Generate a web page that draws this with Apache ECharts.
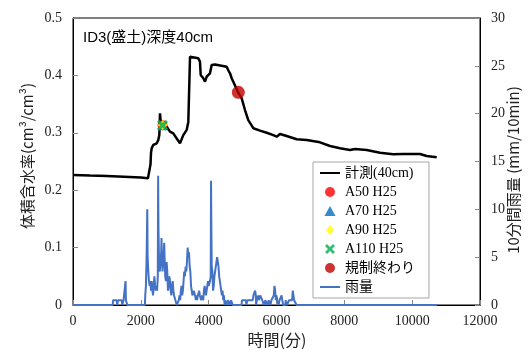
<!DOCTYPE html>
<html><head><meta charset="utf-8">
<script src="https://cdn.jsdelivr.net/npm/echarts@6/dist/echarts.min.js"></script>
<style>html,body{margin:0;padding:0;background:#fff}#c{width:528px;height:350px}</style>
</head><body><div id="c"></div>
<script>
// Soil moisture at 40cm depth: [time(min), cm3/cm3]
var moisture = [[0,0.2265],[500,0.2255],[1000,0.2248],[1500,0.2235],[2000,0.2222],[2210,0.2207],[2265,0.2215],[2285,0.245],[2300,0.265],[2320,0.273],[2368,0.279],[2468,0.2817],[2515,0.2875],[2545,0.296],[2565,0.334],[2594,0.3136],[2653,0.312],[2762,0.3106],[2860,0.302],[2957,0.299],[3057,0.290],[3155,0.2817],[3205,0.2817],[3252,0.296],[3352,0.305],[3400,0.319],[3450,0.4326],[3500,0.4326],[3694,0.430],[3744,0.424],[3765,0.4007],[3842,0.395],[3892,0.389],[3942,0.3977],[4039,0.4037],[4089,0.418],[4187,0.419],[4531,0.415],[4579,0.409],[4629,0.4037],[4679,0.395],[4726,0.389],[4874,0.370],[4974,0.360],[5071,0.3397],[5168,0.322],[5316,0.308],[5513,0.3037],[5711,0.300],[5905,0.296],[6006,0.2932],[6103,0.298],[6300,0.2944],[6595,0.2887],[6890,0.2875],[7282,0.2834],[7577,0.277],[7872,0.273],[8167,0.270],[8314,0.2718],[8659,0.270],[9051,0.2653],[9443,0.2625],[9738,0.263],[10231,0.263],[10428,0.2596],[10723,0.2573]];
var a50 = [[2640,0.313]];
var a70 = [[2640,0.313]];
var a90 = [[2640,0.313]];
var a110 = [[2640,0.313]];
var kiseiEnd = [[4874,0.3705]];
// 10-minute rainfall: [time(min), mm/10min]
var rain = [[0,0],[1170,0],[1180,0.5],[1290,0.5],[1300,0],[1320,0],[1330,0.5],[1440,0.5],[1450,0],[1480,0],[1490,0.5],[1540,0.5],[1550,2.5],[1560,0.5],[1590,0.5],[1600,0],
[2120,0],[2130,1],[2150,2],[2170,5],[2190,10],[2200,5],[2220,3.5],[2240,2.5],[2260,2],[2280,2.5],[2300,1.5],[2320,2.5],[2340,1.5],[2360,1],[2380,2],[2400,3],[2420,2],[2440,1.5],[2460,2],[2480,1.5],[2500,3],[2510,13.5],[2520,8],[2540,4],[2560,3.5],[2580,4.5],[2600,5.5],[2610,7],[2620,5],[2640,3.5],[2660,4.5],[2690,6.5],[2700,5],[2720,3],[2740,2.5],[2760,4.5],[2780,3.5],[2800,1.5],[2820,2],[2840,3],[2860,2.5],[2880,1.5],[2900,1],[2920,2],[2940,2.5],[2960,1.5],[2980,1],[3000,1],[3020,0.5],[3040,0.5],[3060,0],[3100,0],[3120,0.5],[3140,1],[3160,0.5],[3180,1.5],[3200,2],[3220,1],[3240,1.5],[3260,2.5],[3280,3.5],[3300,3],[3320,4],[3340,3.5],[3360,4.5],[3380,6],[3400,5],[3420,5.5],[3440,4],[3460,3.5],[3480,2],[3500,1.5],[3520,1],[3540,1],[3560,1.5],[3580,1.5],[3600,1],[3620,0.5],[3640,1],[3660,0.5],[3680,1],[3700,1],[3720,1.5],[3740,1],[3760,1],[3780,0.5],[3800,1],[3820,1],[3840,0.5],[3860,1.5],[3880,2],[3900,1.5],[3920,1],[3940,1.5],[3960,2],[3980,2.5],[4000,2],[4020,2],[4040,2.5],[4060,3],[4070,13],[4080,8],[4090,4],[4110,3.5],[4130,1.5],[4150,2],[4170,3],[4190,3.5],[4210,4],[4230,4.5],[4250,5],[4270,5],[4290,4],[4310,3],[4330,2.5],[4350,2],[4370,1.5],[4390,1],[4410,1.5],[4430,0.5],[4450,1],[4470,0],[4490,0.5],[4530,0.5],[4540,0],[4560,0],[4570,0.5],[4620,0.5],[4630,0],[4650,0],[4660,0.5],[4700,0.5],[4710,0],[4970,0],[4980,0.5],[5100,0.5],[5110,0],[5130,0],[5140,0.5],[5300,0.5],[5320,1],[5350,1],[5370,1.5],[5390,1],[5400,0],[5420,0.5],[5450,0.5],[5460,1],[5480,0.5],[5520,1],[5560,1],[5580,0.5],[5620,0.5],[5630,0],[5660,0],[5670,0.5],[5720,0.5],[5730,0],[5760,0],[5770,0.5],[5810,0.5],[5820,0],[5840,0],[5850,0.5],[5900,0.5],[5920,1],[5940,2],[5960,1.5],[5980,0.5],[6000,1],[6020,0.5],[6040,0.5],[6060,0],[6080,0],[6090,0.5],[6130,0.5],[6150,1],[6170,0.5],[6190,0.5],[6200,0],[6260,0],[6270,0.5],[6300,0.5],[6310,0],[6360,0],[6370,0.5],[6460,0.5],[6480,1.5],[6500,1],[6520,0.5],[6560,0.5],[6590,0],[10730,0]];
var xTicks = [0,2000,4000,6000,8000,10000,12000];
var leftTicks = [0,0.1,0.2,0.3,0.4,0.5];
var rightTicks = [0,5,10,15,20,25,30];

var serif = "'Liberation Serif','Times New Roman','Noto Sans CJK JP',serif";
var jp = "'Noto Sans CJK JP','Liberation Serif',sans-serif";
var xPath = 'path://M0,2 L2,0 L5,3 L8,0 L10,2 L7,5 L10,8 L8,10 L5,7 L2,10 L0,8 L3,5 Z';
var circlePath = 'path://M0,5 A5,5 0 1,1 10,5 A5,5 0 1,1 0,5 Z';
var triPath = 'path://M5,0 L10,9 L0,9 Z';
var diaPath = 'path://M5,0 L9,5 L5,10 L1,5 Z';
var linePath = 'path://M0,0 L20,0 L20,2 L0,2 Z';

var chart = echarts.init(document.getElementById('c'), null, {renderer:'canvas'});
var tickStyle = {show:true, inside:true, length:5, lineStyle:{color:'#888', width:1}};
var axisLbl = {color:'#222', fontFamily:serif, fontSize:14};
chart.setOption({
  animation:false,
  grid:{left:73, right:48, top:18, bottom:45, show:true, borderColor:'#000', borderWidth:1},
  xAxis:{type:'value', min:0, max:12000, interval:2000,
    axisLine:{show:true, lineStyle:{color:'#000', width:1}}, axisTick:tickStyle, splitLine:{show:false},
    axisLabel:Object.assign({margin:9, formatter:function(v){return xTicks.indexOf(v)>=0?String(v):'';}}, axisLbl)},
  yAxis:[
    {type:'value', min:0, max:0.5, interval:0.1, position:'left',
     axisLine:{show:true, lineStyle:{color:'#000', width:1}}, axisTick:tickStyle, splitLine:{show:false},
     axisLabel:Object.assign({margin:11, formatter:function(v){var r=Math.round(v*10)/10; return leftTicks.indexOf(r)>=0?String(r):'';}}, axisLbl)},
    {type:'value', min:0, max:30, interval:5, position:'right',
     axisLine:{show:true, lineStyle:{color:'#000', width:1}}, axisTick:tickStyle, splitLine:{show:false},
     axisLabel:Object.assign({margin:11, formatter:function(v){return rightTicks.indexOf(v)>=0?String(v):'';}}, axisLbl)}
  ],
  legend:{orient:'vertical', left:313, top:162, backgroundColor:'#fff', borderColor:'#a6a6a6', borderWidth:1,
    padding:[4,14,4,7], itemWidth:20, itemHeight:10, itemGap:5, symbolKeepAspect:true,
    textStyle:{fontFamily:serif, fontSize:14, color:'#000'},
    data:[
      {name:'計測(40cm)', icon:linePath},
      {name:'A50 H25', icon:circlePath},
      {name:'A70 H25', icon:triPath},
      {name:'A90 H25', icon:diaPath},
      {name:'A110 H25', icon:xPath},
      {name:'規制終わり', icon:circlePath},
      {name:'雨量', icon:linePath}
    ]},
  graphic:[
    {type:'text', left:83, top:30, style:{text:'ID3(盛土)深度40cm', font:"15px 'Liberation Sans','Noto Sans CJK JP',sans-serif", fill:'#000'}},
    {type:'text', x:27, y:156, rotation:Math.PI/2, style:{text:'体積含水率(cm³/cm³)', font:"15px "+jp, fill:'#222', align:'center', verticalAlign:'middle'}},
    {type:'text', x:513, y:170, rotation:Math.PI/2, style:{text:'10分間雨量 (mm/10min)', font:"15px "+jp, fill:'#222', align:'center', verticalAlign:'middle'}},
    {type:'text', x:277, y:340, style:{text:'時間(分)', font:"16px "+jp, fill:'#222', align:'center', verticalAlign:'middle'}}
  ],
  series:[
    {name:'計測(40cm)', type:'line', data:moisture, symbol:'none', lineStyle:{color:'#000', width:2.5}, itemStyle:{color:'#000'}, z:5},
    {name:'A50 H25', type:'scatter', data:a50, symbol:'circle', symbolSize:10, itemStyle:{color:'#ff0000'}, z:6},
    {name:'A70 H25', type:'scatter', data:a70, symbol:'triangle', symbolSize:10, itemStyle:{color:'#0070c0'}, z:7},
    {name:'A90 H25', type:'scatter', data:a90, symbol:'diamond', symbolSize:10, itemStyle:{color:'#ffff00'}, z:8},
    {name:'A110 H25', type:'scatter', data:a110, symbol:xPath, symbolSize:11, itemStyle:{color:'#00b050'}, z:9},
    {name:'規制終わり', type:'scatter', data:kiseiEnd, symbol:'circle', symbolSize:13, itemStyle:{color:'#c00000'}, z:10},
    {name:'雨量', type:'line', yAxisIndex:1, data:rain, symbol:'none', lineStyle:{color:'#4472c4', width:2}, itemStyle:{color:'#4472c4'}, z:4}
  ]
});
</script></body></html>
